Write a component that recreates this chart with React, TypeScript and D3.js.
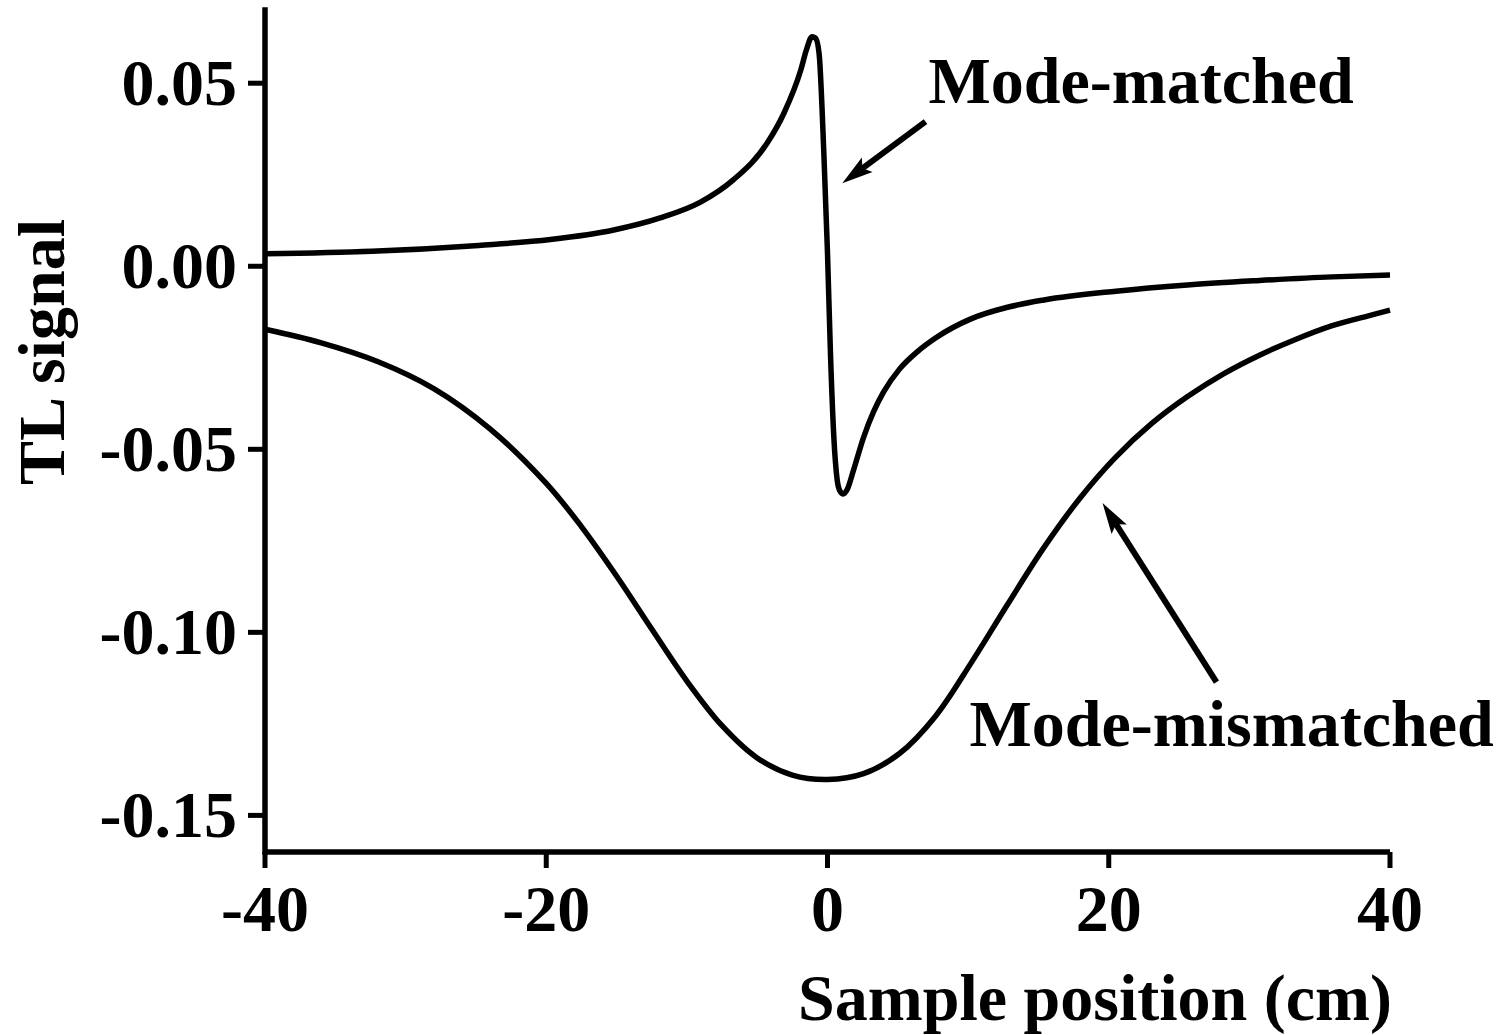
import React from "react";
import * as d3 from "d3";

const xTicks = [-40, -20, 0, 20, 40];
const yTicks = [-0.15, -0.1, -0.05, 0.0, 0.05];

const matchedX = [-40, -32.4, -24.8, -19.7, -15.2, -11.9, -9.0, -6.7, -4.3, -3.1, -1.9, -1.5, -1.1, -0.85, -0.6, -0.26, 0, 0.21, 0.45, 0.69, 0.9, 1.12, 1.4, 1.85, 2.56, 3.27, 3.98, 5.12, 6.4, 7.68, 10.24, 12.8, 15.4, 20.5, 25.6, 30.7, 35.9, 40];
const matchedY = [0.0034, 0.0041, 0.0057, 0.0073, 0.0099, 0.0132, 0.0176, 0.0236, 0.0336, 0.0418, 0.0536, 0.0591, 0.0627, 0.0623, 0.0582, 0.0309, 0.0036, -0.0237, -0.0466, -0.0584, -0.0615, -0.0622, -0.061, -0.0557, -0.0468, -0.0398, -0.0344, -0.0281, -0.0233, -0.0196, -0.0143, -0.0112, -0.0092, -0.0068, -0.0051, -0.0039, -0.0029, -0.0024];

const mismatchedX = [-40, -36, -32, -28, -24, -20, -17.5, -15, -12.5, -10, -7.5, -5, -2.5, 0, 2.56, 5.12, 7.68, 10.24, 12.8, 15.36, 17.92, 20.48, 23.04, 25.6, 28.16, 30.72, 33.28, 35.84, 38.4, 40];
const mismatchedY = [-0.0172, -0.0209, -0.026, -0.0334, -0.0444, -0.0593, -0.0711, -0.0846, -0.0991, -0.1133, -0.1255, -0.1343, -0.139, -0.1402, -0.1386, -0.1331, -0.1229, -0.1082, -0.0924, -0.077, -0.0635, -0.0522, -0.043, -0.0356, -0.0294, -0.0243, -0.02, -0.0163, -0.0136, -0.012];

// annotations in data units
const matchedLabel = { text: "Mode-matched", x: 7.18, y: 0.0446 };
const matchedArrow = [6.97, 0.0395, 1.05, 0.0227];
const mismatchedLabel = { text: "Mode-mismatched", x: 10.1, y: -0.131 };
const mismatchedArrow = [27.66, -0.1136, 19.56, -0.0647];

const FONT = "'Liberation Serif', 'Times New Roman', Times, serif";

export default function App() {
  const W = 1499;
  const H = 1035;
  const x = d3.scaleLinear().domain([-40, 40]).range([265, 1390]);
  const y = d3.scaleLinear().domain([-0.16, 0.07]).range([852, 10]);

  const lineMono = d3
    .line<[number, number]>()
    .x((d) => x(d[0]))
    .y((d) => y(d[1]))
    .curve(d3.curveMonotoneX);
  const lineSmooth = d3
    .line<[number, number]>()
    .x((d) => x(d[0]))
    .y((d) => y(d[1]))
    .curve(d3.curveCatmullRom.alpha(0.5));

  const matched = matchedX.map((v, i) => [v, matchedY[i]] as [number, number]);
  const mismatched = mismatchedX.map((v, i) => [v, mismatchedY[i]] as [number, number]);

  const arrow = (a: number[], key: string) => {
    const x0 = x(a[0]);
    const y0 = y(a[1]);
    const x1 = x(a[2]);
    const y1 = y(a[3]);
    const dx = x1 - x0;
    const dy = y1 - y0;
    const len = Math.hypot(dx, dy);
    const ux = dx / len;
    const uy = dy / len;
    const px = -uy;
    const py = ux;
    const headLen = 31;
    const halfW = 9;
    const notch = 25;
    const bx = x1 - ux * headLen;
    const by = y1 - uy * headLen;
    const nx = x1 - ux * notch;
    const ny = y1 - uy * notch;
    const head = `M${x1},${y1} L${bx + px * halfW},${by + py * halfW} L${nx},${ny} L${bx - px * halfW},${by - py * halfW} Z`;
    return (
      <g key={key}>
        <line x1={x0} y1={y0} x2={nx} y2={ny} stroke="#000" strokeWidth={6} />
        <path d={head} fill="#000" />
      </g>
    );
  };

  return (
    <svg
      width={W}
      height={H}
      style={{ position: "absolute", left: 0, top: 0, background: "#fff" }}
      fontFamily={FONT}
      fontWeight="bold"
    >
      <rect x={0} y={0} width={W} height={H} fill="#fff" />
      {/* axes */}
      <line x1={x(-40)} y1={y(0.07)} x2={x(-40)} y2={y(-0.16)} stroke="#000" strokeWidth={5.5} strokeLinecap="square" />
      <line x1={x(-40)} y1={y(-0.16)} x2={x(40)} y2={y(-0.16)} stroke="#000" strokeWidth={5.5} />
      {yTicks.map((t) => (
        <g key={"y" + t}>
          <line x1={x(-40) - 17} x2={x(-40)} y1={y(t)} y2={y(t)} stroke="#000" strokeWidth={5} />
          <text x={x(-40) - 28} y={y(t) + 22} textAnchor="end" fontSize={66}>
            {t.toFixed(2)}
          </text>
        </g>
      ))}
      {xTicks.map((t) => (
        <g key={"x" + t}>
          <line x1={x(t)} x2={x(t)} y1={y(-0.16)} y2={y(-0.16) + 16} stroke="#000" strokeWidth={5} />
          <text x={x(t)} y={931} textAnchor="middle" fontSize={66}>
            {t}
          </text>
        </g>
      ))}
      <text x={1392} y={1020} textAnchor="end" fontSize={66}>
        Sample position (cm)
      </text>
      <text transform="translate(64,352) rotate(-90)" textAnchor="middle" fontSize={66}>
        TL signal
      </text>
      {/* curves */}
      <path d={lineMono(matched) || ""} fill="none" stroke="#000" strokeWidth={5.5} strokeLinejoin="round" />
      <path d={lineSmooth(mismatched) || ""} fill="none" stroke="#000" strokeWidth={5.5} strokeLinejoin="round" />
      {/* annotations */}
      {arrow(matchedArrow, "a1")}
      {arrow(mismatchedArrow, "a2")}
      <text x={x(matchedLabel.x)} y={y(matchedLabel.y)} fontSize={66}>
        {matchedLabel.text}
      </text>
      <text x={x(mismatchedLabel.x)} y={y(mismatchedLabel.y)} fontSize={66}>
        {mismatchedLabel.text}
      </text>
    </svg>
  );
}
